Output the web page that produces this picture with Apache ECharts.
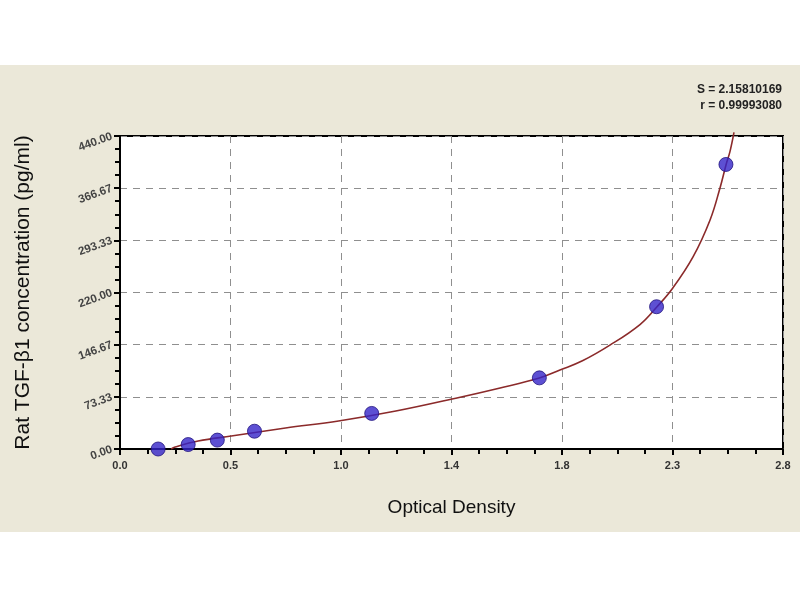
<!DOCTYPE html>
<html>
<head>
<meta charset="utf-8">
<script src="https://cdn.jsdelivr.net/npm/echarts@6/dist/echarts.min.js"></script>
<style>
  html, body { margin: 0; padding: 0; background: #fff; }
  #main { width: 800px; height: 600px; }
</style>
</head>
<body>
<div id="main"></div>
<script>
// standards: optical density vs concentration
var odValues = [0.161, 0.288, 0.411, 0.568, 1.063, 1.771, 2.266, 2.559];
var concValues = [0, 6.25, 12.5, 25, 50, 100, 200, 400];

// fitted curve
var curveOd = [0.216, 0.233, 0.330, 0.470, 0.699, 0.923, 1.165, 1.432, 1.601, 1.771, 1.858, 1.953, 2.069, 2.196, 2.268, 2.334, 2.420, 2.492, 2.534, 2.559, 2.576, 2.593];
var curveConc = [0, 2.8, 11.2, 18.3, 29.5, 39.4, 53.4, 72.5, 85.5, 99.8, 111, 124, 146, 175, 200, 226, 270, 322, 367, 399, 418, 445];

var xTickLabels = ['0.0', '0.5', '1.0', '1.4', '1.8', '2.3', '2.8'];
var yTickLabels = ['0.00', '73.33', '146.67', '220.00', '293.33', '366.67', '440.00'];

var xMax = 2.8, yMax = 440;
var xStep = xMax / 6, yStep = yMax / 6;

var points = odValues.map(function (v, i) { return [v, concValues[i]]; });
var curve = curveOd.map(function (v, i) { return [v, curveConc[i]]; });

var myChart = echarts.init(document.getElementById('main'));
myChart.setOption({
    backgroundColor: '#ffffff',
    animation: false,
    textStyle: { fontFamily: 'Liberation Sans, Arial, sans-serif' },
    graphic: [
        { type: 'rect', z: -10, shape: { x: 0, y: 65, width: 800, height: 467 }, style: { fill: '#ebe8d9' } },
        { type: 'text', right: 18, top: 84, style: { text: 'S = 2.15810169', fill: '#222', font: 'bold 12px Liberation Sans, Arial', textAlign: 'right' } },
        { type: 'text', right: 18, top: 100, style: { text: 'r = 0.99993080', fill: '#222', font: 'bold 12px Liberation Sans, Arial', textAlign: 'right' } }
    ],
    grid: {
        left: 120, right: 17, top: 136, bottom: 151,
        show: true, backgroundColor: '#ffffff', borderColor: '#000', borderWidth: 2
    },
    xAxis: {
        type: 'value', min: 0, max: xMax, interval: xStep,
        name: 'Optical Density', nameLocation: 'middle', nameGap: 49,
        nameTextStyle: { fontSize: 19, color: '#111' },
        axisLine: { lineStyle: { color: '#000', width: 2 } },
        axisTick: { show: true, length: 6, lineStyle: { color: '#000', width: 2 } },
        minorTick: { show: true, splitNumber: 4, length: 5, lineStyle: { color: '#000', width: 2 } },
        axisLabel: {
            fontSize: 11, fontWeight: 'bold', color: '#333', margin: 11,
            showMinLabel: true, showMaxLabel: true,
            formatter: function (v) { return xTickLabels[Math.round(v / xStep)] || ''; }
        },
        splitLine: { show: true, lineStyle: { color: '#8f8f8f', type: [7, 6], width: 1 } }
    },
    yAxis: {
        type: 'value', min: 0, max: yMax, interval: yStep,
        name: 'Rat TGF-β1 concentration (pg/ml)', nameLocation: 'middle', nameGap: 86,
        nameRotate: 90,
        nameTextStyle: { fontSize: 21, color: '#111' },
        axisLine: { show: true, lineStyle: { color: '#000', width: 2 } },
        axisTick: { show: true, length: 6, lineStyle: { color: '#000', width: 2 } },
        minorTick: { show: true, splitNumber: 4, length: 5, lineStyle: { color: '#000', width: 2 } },
        axisLabel: {
            fontSize: 11.5, fontWeight: 'bold', color: '#444', rotate: 20, margin: 8,
            showMinLabel: true, showMaxLabel: true,
            formatter: function (v) { return yTickLabels[Math.round(v / yStep)] || ''; }
        },
        splitLine: { show: true, lineStyle: { color: '#8f8f8f', type: [7, 6], width: 1 } }
    },
    series: [
        {
            type: 'line', data: curve, smooth: 0.4, showSymbol: false, clip: false,
            lineStyle: { color: '#8b2a2a', width: 1.6 }, z: 2
        },
        {
            type: 'scatter', data: points, symbol: 'circle', symbolSize: 14,
            itemStyle: { color: '#3524c8', borderColor: '#22147e', borderWidth: 1 }, z: 3
        }
    ]
});
</script>
</body>
</html>
